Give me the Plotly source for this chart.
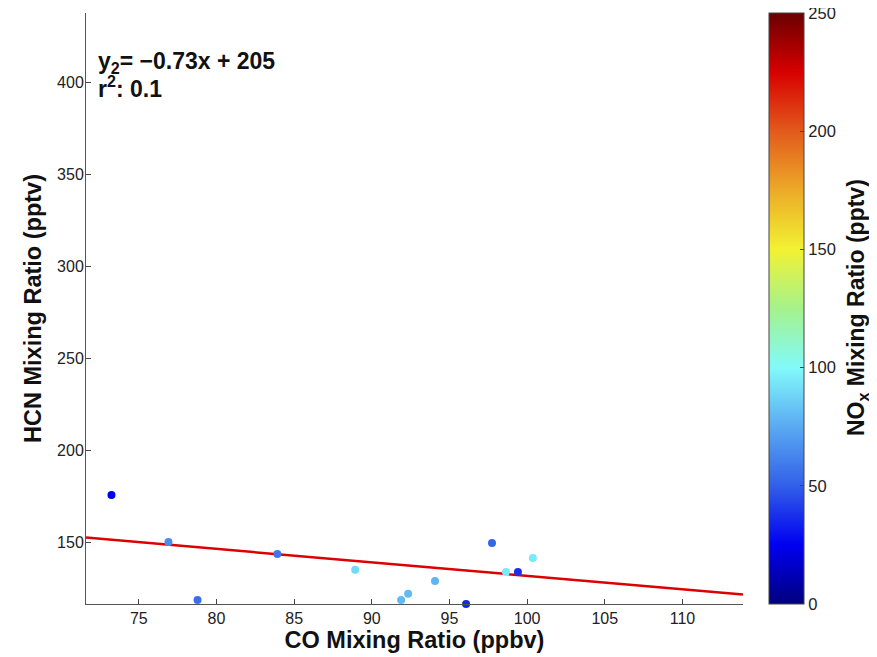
import plotly.graph_objects as go

# Data
co_ppbv = [73.24, 76.91, 78.78, 83.92, 88.93, 91.89, 92.34, 94.07, 96.07, 97.74, 98.64, 99.41, 100.37]
hcn_pptv = [175.9, 150.4, 118.9, 143.9, 135.3, 118.9, 122.2, 129.2, 116.7, 149.8, 134.1, 134.1, 141.7]
nox_pptv = [25, 65, 55, 58, 90, 80, 80, 78, 35, 52, 95, 38, 95]

fit_slope = -0.73
fit_intercept = 205.0
x_range = [71.6, 113.9]
y_range = [116.7, 437.5]

x_ticks = [75, 80, 85, 90, 95, 100, 105, 110]
y_ticks = [150, 200, 250, 300, 350, 400]
cb_ticks = [0, 50, 100, 150, 200, 250]

jet_like = [
    [0.0, "rgb(0,0,125)"],
    [0.1, "rgb(0,0,240)"],
    [0.2, "rgb(50,95,232)"],
    [0.3, "rgb(90,170,242)"],
    [0.4, "rgb(130,250,250)"],
    [0.5, "rgb(165,242,140)"],
    [0.6, "rgb(242,242,50)"],
    [0.7, "rgb(236,170,40)"],
    [0.8, "rgb(226,90,28)"],
    [0.9, "rgb(215,0,0)"],
    [1.0, "rgb(105,0,0)"],
]

FONT = "Liberation Sans, Arial, Helvetica, sans-serif"
OFF = 8  # page body margin
W, H = 877 - OFF, 657 - OFF
# plot area on screen: x 86..743, y 13..604
L, T = 86 - OFF, 13 - OFF
R, B = W - (743 - OFF), H - (604 - OFF)
PW, PH = W - L - R, H - T - B


def sx(px):
    return (px - OFF - L) / PW


def sy(py):
    return 1 - (py - OFF - T) / PH


fig = go.Figure()

fig.add_trace(go.Scatter(
    x=x_range,
    y=[fit_slope * v + fit_intercept for v in x_range],
    mode="lines",
    line=dict(color="rgb(220,0,0)", width=2.5),
    showlegend=False,
    hoverinfo="skip",
))

fig.add_trace(go.Scatter(
    x=co_ppbv, y=hcn_pptv, mode="markers",
    cliponaxis=False,
    marker=dict(
        size=8, color=nox_pptv, colorscale=jet_like, cmin=0, cmax=250,
        line=dict(width=0),
        showscale=True,
        colorbar=dict(
            x=sx(769), xanchor="left", xpad=0,
            y=0.5, yanchor="middle", len=1, lenmode="fraction", ypad=0,
            thickness=35, thicknessmode="pixels",
            outlinewidth=1, outlinecolor="#444",
            tickvals=cb_ticks, ticks="inside", ticklen=4, tickcolor="#444",
            ticklabeloverflow="allow",
            tickfont=dict(family=FONT, size=16.5, color="#222"),
        ),
    ),
    showlegend=False,
))

fig.update_layout(
    width=W, height=H,
    margin=dict(l=L, r=R, t=T, b=B, autoexpand=False),
    paper_bgcolor="white", plot_bgcolor="white",
    font=dict(family=FONT, color="#111"),
    xaxis=dict(
        range=x_range, tickvals=x_ticks, ticks="inside", ticklen=5,
        tickcolor="#444", showline=True, linecolor="#555", linewidth=1,
        showgrid=False, zeroline=False, automargin=False,
        tickfont=dict(family=FONT, size=16, color="#222"),
        title=dict(text="<b>CO Mixing Ratio (ppbv)</b>", font=dict(family=FONT, size=23.5, color="#111"), standoff=2),
    ),
    yaxis=dict(
        range=y_range, tickvals=y_ticks, ticks="inside", ticklen=5,
        tickcolor="#444", showline=True, linecolor="#555", linewidth=1,
        showgrid=False, zeroline=False, ticklabelstandoff=-2, automargin=False,
        tickfont=dict(family=FONT, size=16, color="#222"),
        title=dict(text="<b>HCN Mixing Ratio (pptv)</b>", font=dict(family=FONT, size=23.5, color="#111"), standoff=8),
    ),
    annotations=[
        dict(xref="paper", yref="paper", x=sx(96), y=sy(63),
             xanchor="left", yanchor="middle", showarrow=False,
             text="<b>y<sub>2</sub>= \u22120.73x + 205</b>",
             font=dict(family=FONT, size=23, color="#111")),
        dict(xref="paper", yref="paper", x=sx(96), y=sy(87),
             xanchor="left", yanchor="middle", showarrow=False,
             text="<b>r<sup>2</sup>: 0.1</b>",
             font=dict(family=FONT, size=23, color="#111")),
        dict(xref="paper", yref="paper", x=sx(857), y=sy(308),
             xanchor="center", yanchor="middle", showarrow=False, textangle=-90,
             text="<b>NO<sub>x</sub> Mixing Ratio (pptv)</b>",
             font=dict(family=FONT, size=23, color="#111")),
    ],
)

fig.write_html("out.html")
